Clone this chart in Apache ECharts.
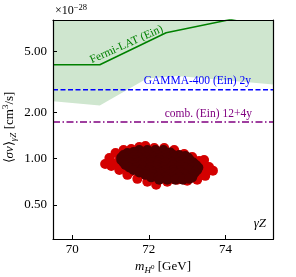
<!DOCTYPE html>
<html><head><meta charset="utf-8">
<script src="https://cdn.jsdelivr.net/npm/echarts@6/dist/echarts.min.js"></script>
<style>html,body{margin:0;padding:0;background:#fff}#c{width:296px;height:277px}</style>
</head><body><div id="c"></div>
<script>
// axis ranges / ticks
const xTicks = [70, 72, 74];
const yTicks = [0.5, 1, 2, 5];
// Fermi-LAT (Ein) limit line
const fermiX = [69.5, 70.72, 72.45, 75.25];
const fermiY = [4.09, 4.09, 6.61, 9.2];
// Fermi band lower edge (band extends above plot)
const bandX = [69.5, 70.72, 71.95, 72.75, 75.25];
const bandY = [2.37, 2.22, 3.33, 3.45, 3.04];
// horizontal projections
const lineX = [69.5, 75.25];
const gammaY = [2.81, 2.81];
const combY = [1.734, 1.734];
// scan points
const redPoints = [[70.86,0.924],[70.97,1.01],[71.13,1.088],[71.34,1.138],[71.54,1.155],[71.75,1.19],[71.91,1.208],[72.14,1.172],[72.40,1.172],[72.66,1.138],[72.92,1.072],[73.13,1.025],[73.31,0.966],[73.44,0.981],[73.47,0.897],[73.57,0.884],[73.67,0.836],[73.52,0.845],[73.47,0.773],[73.41,0.785],[73.26,0.729],[73.0,0.718],[72.74,0.729],[72.48,0.707],[72.19,0.676],[71.96,0.707],[71.70,0.739],[71.44,0.785],[71.23,0.845],[71.02,0.897],[71.2,0.95],[72.0,0.9],[72.5,0.9],[73.0,0.85],[71.1,0.93],[71.3,0.88],[71.5,0.82],[73.35,0.8]];
const darkPoints = [
[71.75,1.138],[71.96,1.138],[72.17,1.138],[72.38,1.138],
[71.44,1.088],[71.60,1.105],
[71.65,1.096],[71.83,1.096],[72.01,1.096],[72.19,1.096],[72.38,1.096],[72.56,1.096],
[71.34,1.056],[71.49,1.056],[71.65,1.056],[71.80,1.056],[72.01,1.056],[72.22,1.056],[72.43,1.056],[72.64,1.056],[72.79,1.056],[72.95,1.041],
[71.28,1.018],[71.39,1.018],[71.57,1.018],[71.75,1.018],[71.93,1.018],[72.12,1.018],[72.30,1.018],[72.48,1.018],[72.66,1.018],[72.84,1.018],[73.02,1.018],
[71.28,0.981],[71.44,0.981],[71.65,0.981],[71.86,0.981],[72.06,0.981],[72.27,0.981],[72.48,0.981],[72.69,0.981],[72.89,0.981],[73.07,0.981],
[71.34,0.945],[71.52,0.945],[71.70,0.945],[71.88,0.945],[72.06,0.945],[72.25,0.945],[72.43,0.945],[72.61,0.945],[72.79,0.945],[72.97,0.945],[73.16,0.945],
[71.39,0.911],[71.60,0.911],[71.80,0.911],[72.01,0.911],[72.22,0.911],[72.43,0.911],[72.64,0.911],[72.84,0.911],[73.05,0.911],[73.23,0.911],
[71.49,0.877],[71.67,0.877],[71.86,0.877],[72.04,0.877],[72.22,0.877],[72.40,0.877],[72.58,0.877],[72.77,0.877],[72.95,0.877],[73.13,0.877],[73.29,0.877],
[71.60,0.845],[71.80,0.845],[72.01,0.845],[72.22,0.845],[72.43,0.845],[72.64,0.845],[72.84,0.845],[73.05,0.845],[73.26,0.845],
[71.75,0.814],[71.93,0.814],[72.12,0.814],[72.30,0.814],[72.48,0.814],[72.66,0.814],[72.84,0.814],[73.02,0.814],[73.20,0.814],
[71.91,0.785],[72.12,0.785],[72.32,0.785],[72.53,0.785],[72.74,0.785],[72.95,0.785],[73.15,0.785],
[72.06,0.756],[72.25,0.756],[72.43,0.756],[72.61,0.756],[72.79,0.756],[72.97,0.756],[73.13,0.756],
[72.27,0.729],[72.48,0.729],[72.69,0.729],[72.89,0.729],[73.05,0.739]];

const FONT = 'Liberation Serif';
const zip = (a, b) => a.map((v, i) => [v, b[i]]);
const chart = echarts.init(document.getElementById('c'), null, {renderer: 'canvas'});
const frameAxis = {show: true, lineStyle: {color: '#000', width: 1.2}, onZero: false};
chart.setOption({
  animation: false,
  backgroundColor: '#fff',
  grid: {left: 53, right: 22.5, top: 20, bottom: 38},
  xAxis: [{
    type: 'value', min: 69.5, max: 75.25, z: 10,
    axisLine: frameAxis, splitLine: {show: false},
    axisTick: {inside: true, length: 4, customValues: xTicks, lineStyle: {color: '#000', width: 1}},
    axisLabel: {customValues: xTicks, color: '#000', fontFamily: FONT, fontSize: 13, margin: 4},
  }, {
    type: 'value', position: 'top', min: 69.5, max: 75.25, z: 10,
    axisLine: frameAxis, axisTick: {show: false}, axisLabel: {show: false}, splitLine: {show: false}
  }],
  yAxis: [{
    type: 'log', logBase: 10, min: 0.3, max: 8, z: 10,
    axisLine: frameAxis, splitLine: {show: false}, minorTick: {show: false},
    axisTick: {inside: true, length: 4, customValues: yTicks, lineStyle: {color: '#000', width: 1}},
    axisLabel: {customValues: yTicks, color: '#000', fontFamily: FONT, fontSize: 13, margin: 6,
      formatter: v => Number(v).toFixed(2)},
  }, {
    type: 'log', logBase: 10, min: 0.3, max: 8, position: 'right', z: 10,
    axisLine: frameAxis, axisTick: {show: false}, axisLabel: {show: false}, splitLine: {show: false}
  }],
  series: [
    {type: 'line', data: zip(bandX, bandY), symbol: 'none', clip: true,
     lineStyle: {width: 0, opacity: 0}, areaStyle: {origin: 'end', color: '#cfe6cf', opacity: 1}, z: 1},
    {type: 'line', data: zip(fermiX, fermiY), symbol: 'none', clip: true,
     lineStyle: {color: '#008000', width: 1.5}, z: 3},
    {type: 'line', data: zip(lineX, gammaY), symbol: 'none',
     lineStyle: {color: '#0000ff', width: 1.5, type: [5, 2.5]}, z: 3},
    {type: 'line', data: zip(lineX, combY), symbol: 'none',
     lineStyle: {color: '#800080', width: 1.5, type: [7, 2.5, 1.5, 2.5]}, z: 3},
    {type: 'scatter', data: redPoints, symbolSize: 10, itemStyle: {color: '#d40000', opacity: 1}, z: 4},
    {type: 'scatter', data: darkPoints, symbolSize: 10, itemStyle: {color: '#4b0000', opacity: 1}, z: 5}
  ],
  graphic: [
    {type: 'text', x: 55, y: 3, z: 20, style: {
      text: '{a|×10}{s|−28}', fill: '#000',
      rich: {a: {fontFamily: FONT, fontSize: 12, verticalAlign: 'bottom', lineHeight: 14},
             s: {fontFamily: FONT, fontSize: 8.5, verticalAlign: 'top', lineHeight: 14}}}},
    {type: 'text', x: 163, y: 267, z: 20, style: {
      text: '{i|m}{sub|H}{sup|0} {n|[GeV]}', align: 'center', verticalAlign: 'middle', fill: '#000',
      rich: {i: {fontFamily: FONT, fontStyle: 'italic', fontSize: 13, lineHeight: 16, verticalAlign: 'middle'},
             sub: {fontFamily: FONT, fontStyle: 'italic', fontSize: 9, lineHeight: 16, verticalAlign: 'bottom'},
             sup: {fontFamily: FONT, fontSize: 7, lineHeight: 16, verticalAlign: 'middle'},
             n: {fontFamily: FONT, fontSize: 13, lineHeight: 16, verticalAlign: 'middle'}}}},
    {type: 'text', x: 10, y: 127.5, rotation: Math.PI / 2, z: 20, style: {
      text: '{n|⟨}{i|σv}{n|⟩}{sub|γZ} {n|[cm}{sup|3}{n|/s]}', align: 'center', verticalAlign: 'middle', fill: '#000',
      rich: {i: {fontFamily: FONT, fontStyle: 'italic', fontSize: 13, lineHeight: 17, verticalAlign: 'middle'},
             n: {fontFamily: FONT, fontSize: 13, lineHeight: 17, verticalAlign: 'middle'},
             sub: {fontFamily: FONT, fontStyle: 'italic', fontSize: 9, lineHeight: 17, verticalAlign: 'bottom'},
             sup: {fontFamily: FONT, fontSize: 9, lineHeight: 17, verticalAlign: 'top'}}}},
    {type: 'text', x: 266, y: 224, z: 20, style: {
      text: 'γZ', align: 'right', verticalAlign: 'middle', fill: '#000',
      fontFamily: FONT, fontStyle: 'italic', fontSize: 13}},
    {type: 'text', x: 126.5, y: 44.5, rotation: 24 * Math.PI / 180, z: 20, style: {
      text: 'Fermi-LAT (Ein)', align: 'center', verticalAlign: 'middle', fill: '#008000',
      fontFamily: FONT, fontSize: 11.5}},
    {type: 'text', x: 251, y: 81, z: 20, style: {
      text: 'GAMMA-400 (Ein) 2y', align: 'right', verticalAlign: 'middle', fill: '#0000ff',
      fontFamily: FONT, fontSize: 11.5}},
    {type: 'text', x: 252, y: 113.5, z: 20, style: {
      text: 'comb. (Ein) 12+4y', align: 'right', verticalAlign: 'middle', fill: '#800080',
      fontFamily: FONT, fontSize: 11.5}}
  ]
});
</script></body></html>
